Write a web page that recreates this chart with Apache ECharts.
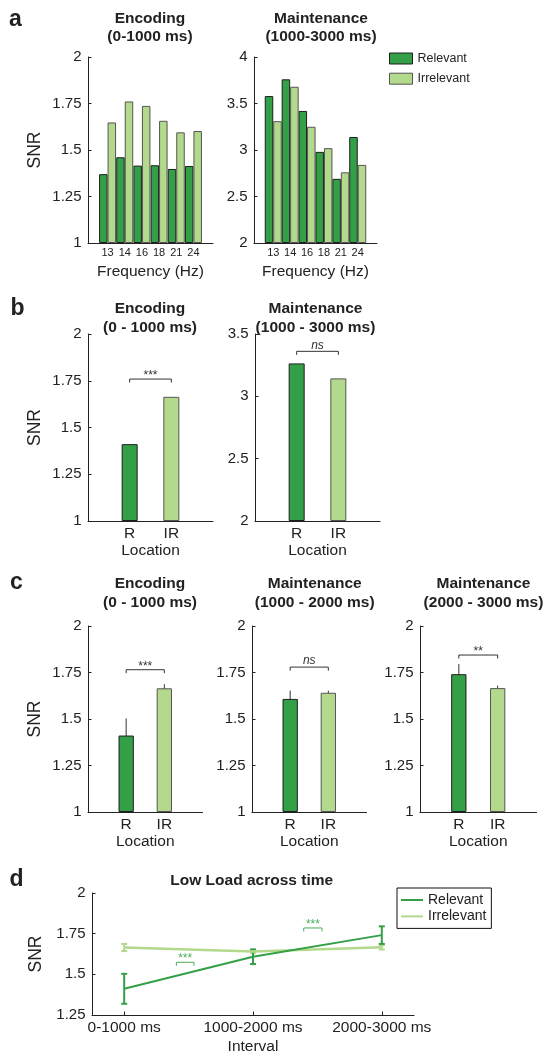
<!DOCTYPE html>
<html>
<head>
<meta charset="utf-8">
<script src="https://cdn.jsdelivr.net/npm/echarts@6/dist/echarts.min.js"></script>
<style>
  html, body { margin: 0; padding: 0; background: #fff; }
  #chart { width: 547px; height: 1056px; }
</style>
</head>
<body>
<div id="chart"></div>
<script>
// Stimulation frequencies (Hz)
const freqs = ['13', '14', '16', '18', '21', '24'];
// SNR per frequency, encoding window (0-1000 ms)
const encRel = [1.370, 1.461, 1.416, 1.418, 1.398, 1.414];
const encIrr = [1.648, 1.761, 1.737, 1.657, 1.595, 1.602];
// SNR per frequency, maintenance window (1000-3000 ms)
const mntRel = [3.58, 3.76, 3.42, 2.98, 2.69, 3.14];
const mntIrr = [3.31, 3.68, 3.25, 3.02, 2.76, 2.84];

// Location categories
const locations = ['R', 'IR'];
// Frequency-averaged SNR by location
const encAvg = [1.411, 1.664];
const mntAvg = [3.264, 3.144];

// Low load, split into three intervals (mean and error)
const intervals = ['0-1000 ms', '1000-2000 ms', '2000-3000 ms'];
const relMean = [1.411, 1.608, 1.741];
const relErr  = [0.092, 0.045, 0.054];
const irrMean = [1.665, 1.641, 1.666];
const irrErr  = [0.022, 0.011, 0.013];

// Significance brackets (level on the SNR axis, marker)
const sigB = [{ y: 1.759, text: '***' }, { y: 3.361, text: 'ns' }];
const sigC = [{ y: 1.765, text: '***' }, { y: 1.779, text: 'ns' }, { y: 1.844, text: '**' }];
const sigD = [{ from: 1.405, to: 1.542, y: 1.574, text: '***' },
              { from: 2.394, to: 2.536, y: 1.785, text: '***' }];

const FONT = '"Liberation Sans", Arial, Helvetica, sans-serif';
const INK = '#222';
const DARK = '#33a047';
const LIGHT = '#b3d98c';
const relStyle = { color: DARK, borderColor: '#1e1e1e', borderWidth: 1 };
const irrStyle = { color: LIGHT, borderColor: '#555', borderWidth: 1 };

const grid = [], xAxis = [], yAxis = [], series = [];

function panel(box, xa, ya) {
  const i = grid.length;
  grid.push(Object.assign({ containLabel: false }, box));
  xAxis.push(Object.assign({ gridIndex: i }, xa));
  yAxis.push(Object.assign({ gridIndex: i }, ya));
  return i;
}

function xAxisCfg(min, max, ticks, labels, o) {
  return {
    type: 'value', min: min, max: max,
    axisLine: { show: true, onZero: false, lineStyle: { color: INK, width: 1 } },
    axisTick: { show: !!o.tick, inside: true, length: 3.5, customValues: ticks, lineStyle: { color: INK } },
    axisLabel: {
      customValues: ticks,
      formatter: v => { const k = ticks.indexOf(v); return k < 0 ? '' : labels[k]; },
      fontSize: o.labelSize, color: INK, margin: o.labelMargin, fontFamily: FONT
    },
    splitLine: { show: false },
    name: o.name, nameLocation: 'middle', nameGap: o.nameGap,
    nameTextStyle: { fontSize: 15.5, color: INK, fontFamily: FONT }
  };
}

function yAxisCfg(min, max, interval, name, nameGap) {
  return {
    type: 'value', min: min, max: max, interval: interval, startValue: min,
    axisLine: { show: true, onZero: false, lineStyle: { color: INK, width: 1 } },
    axisTick: { show: true, inside: true, length: 3.5, lineStyle: { color: INK } },
    axisLabel: { fontSize: 15, color: INK, margin: 6.5, fontFamily: FONT },
    splitLine: { show: false },
    name: name || '', nameLocation: 'middle', nameRotate: 90, nameGap: nameGap || 44,
    nameTextStyle: { fontSize: 17.5, color: INK, fontFamily: FONT }
  };
}

// Error bar drawn through the axes' own scales
function errorBar(color, width, cap) {
  return function (params, api) {
    const x = api.value(0);
    const lo = api.coord([x, api.value(1)]);
    const hi = api.coord([x, api.value(2)]);
    const kids = [{ type: 'line', shape: { x1: lo[0], y1: lo[1], x2: hi[0], y2: hi[1] },
                    style: { stroke: color, lineWidth: width } }];
    if (cap) {
      kids.push({ type: 'line', shape: { x1: lo[0] - cap, y1: lo[1], x2: lo[0] + cap, y2: lo[1] },
                  style: { stroke: color, lineWidth: width } });
      kids.push({ type: 'line', shape: { x1: hi[0] - cap, y1: hi[1], x2: hi[0] + cap, y2: hi[1] },
                  style: { stroke: color, lineWidth: width } });
    }
    return { type: 'group', children: kids };
  };
}

// Significance bracket with its marker above
function bracket(list, color) {
  return function (params, api) {
    const item = list[params.dataIndex];
    const a = api.coord([api.value(0), api.value(2)]);
    const b = api.coord([api.value(1), api.value(2)]);
    const italic = item.text === 'ns';
    return {
      type: 'group',
      children: [
        { type: 'polyline',
          shape: { points: [[a[0], a[1] + 3.5], [a[0], a[1]], [b[0], b[1]], [b[0], b[1] + 3.5]] },
          style: { stroke: color, lineWidth: 1, fill: null } },
        { type: 'text', x: (a[0] + b[0]) / 2, y: a[1] - (italic ? 6 : 3.5),
          style: { text: item.text, align: 'center', verticalAlign: 'middle',
                   fontSize: 12, fontStyle: italic ? 'italic' : 'normal',
                   fill: color, fontFamily: FONT } }
      ]
    };
  };
}

function locPanel(box, yMin, yMax, yInt, snr, means, errs, sig, barW) {
  const i = panel(box,
    xAxisCfg(0, 3, [1, 2], locations, { labelSize: 15.5, labelMargin: 4.5, name: 'Location', nameGap: 20 }),
    yAxisCfg(yMin, yMax, yInt, snr ? 'SNR' : '', 44));
  series.push({
    type: 'bar', xAxisIndex: i, yAxisIndex: i, barWidth: barW, silent: true,
    data: locations.map((c, k) => ({ value: [k + 1, means[k]], itemStyle: k === 0 ? relStyle : irrStyle }))
  });
  if (errs) {
    series.push({
      type: 'custom', xAxisIndex: i, yAxisIndex: i, silent: true,
      renderItem: errorBar('#333', 1, 0), encode: { x: 0, y: [1, 2] },
      data: locations.map((c, k) => [k + 1, means[k] - errs[k], means[k] + errs[k]])
    });
  }
  series.push({
    type: 'custom', xAxisIndex: i, yAxisIndex: i, silent: true,
    renderItem: bracket([sig], '#333'), encode: { x: [0, 1], y: 2 },
    data: [[1, 2, sig.y]]
  });
}

// ---- d: low load across time
const iD = panel({ left: 92, top: 893, width: 322, height: 125 },
  xAxisCfg(0.75, 3.25, [1, 2, 3], intervals, { tick: true, labelSize: 15.5, labelMargin: 4.5, name: 'Interval', nameGap: 24 }),
  yAxisCfg(1.25, 2, 0.25, 'SNR', 47));
series.push({
  type: 'line', name: 'Irrelevant', xAxisIndex: iD, yAxisIndex: iD, symbol: 'none', silent: true,
  lineStyle: { color: LIGHT, width: 2.5 }, itemStyle: { color: LIGHT },
  data: intervals.map((c, k) => [k + 1, irrMean[k]])
});
series.push({
  type: 'custom', xAxisIndex: iD, yAxisIndex: iD, silent: true,
  renderItem: errorBar(LIGHT, 2, 3), encode: { x: 0, y: [1, 2] },
  data: intervals.map((c, k) => [k + 1, irrMean[k] - irrErr[k], irrMean[k] + irrErr[k]])
});
series.push({
  type: 'line', name: 'Relevant', xAxisIndex: iD, yAxisIndex: iD, symbol: 'none', silent: true,
  lineStyle: { color: DARK, width: 2 }, itemStyle: { color: DARK },
  data: intervals.map((c, k) => [k + 1, relMean[k]])
});
series.push({
  type: 'custom', xAxisIndex: iD, yAxisIndex: iD, silent: true,
  renderItem: errorBar(DARK, 2, 3), encode: { x: 0, y: [1, 2] },
  data: intervals.map((c, k) => [k + 1, relMean[k] - relErr[k], relMean[k] + relErr[k]])
});
series.push({
  type: 'custom', xAxisIndex: iD, yAxisIndex: iD, silent: true,
  renderItem: bracket(sigD, '#4cae5c'), encode: { x: [0, 1], y: 2 },
  data: sigD.map(s => [s.from, s.to, s.y])
});

// ---- a: per-frequency bars
function freqPanel(box, yMin, yMax, yInt, snr, rel, irr) {
  const i = panel(box,
    xAxisCfg(-0.14, 7.14, [1, 2, 3, 4, 5, 6], freqs, { labelSize: 11, labelMargin: 4, name: 'Frequency (Hz)', nameGap: 21 }),
    yAxisCfg(yMin, yMax, yInt, snr ? 'SNR' : '', 44));
  series.push({ type: 'bar', name: 'Relevant', xAxisIndex: i, yAxisIndex: i, barWidth: 8.5, barGap: '0%',
    silent: true, itemStyle: relStyle, data: freqs.map((f, k) => [k + 1, rel[k]]) });
  series.push({ type: 'bar', name: 'Irrelevant', xAxisIndex: i, yAxisIndex: i, barWidth: 8.5, barGap: '0%',
    silent: true, itemStyle: irrStyle, data: freqs.map((f, k) => [k + 1, irr[k]]) });
}
freqPanel({ left: 88, top: 57, width: 125, height: 186 }, 1, 2, 0.25, true, encRel, encIrr);
freqPanel({ left: 254, top: 57, width: 123, height: 186 }, 2, 4, 0.5, false, mntRel, mntIrr);

// ---- b: frequency-averaged by location
locPanel({ left: 88, top: 334, width: 125, height: 187 }, 1, 2, 0.25, true, encAvg, null, sigB[0], 16);
locPanel({ left: 255, top: 334, width: 125, height: 187 }, 2, 3.5, 0.5, false, mntAvg, null, sigB[1], 16);

// ---- c: three intervals with error bars
locPanel({ left: 88, top: 626, width: 114.5, height: 186 }, 1, 2, 0.25, true,
  [relMean[0], irrMean[0]], [relErr[0], irrErr[0]], sigC[0], 15.3);
locPanel({ left: 252, top: 626, width: 114.5, height: 186 }, 1, 2, 0.25, false,
  [relMean[1], irrMean[1]], [relErr[1], irrErr[1]], sigC[1], 15.3);
locPanel({ left: 420, top: 626, width: 116.5, height: 186 }, 1, 2, 0.25, false,
  [relMean[2], irrMean[2]], [relErr[2], irrErr[2]], sigC[2], 15.3);

function label(text, x, y, size, weight, lh) {
  return { type: 'text', x: x, y: y, silent: true,
    style: { text: text, fill: INK, fontSize: size, fontWeight: weight, fontFamily: FONT,
             align: 'center', verticalAlign: 'middle', lineHeight: lh || size } };
}

const graphic = [
  label('a', 15.5, 20, 23, 'bold'),
  label('b', 17.5, 309, 23, 'bold'),
  label('c', 16.5, 583, 23, 'bold'),
  label('d', 16.5, 880, 23, 'bold'),
  label('Encoding\n(0-1000 ms)', 150, 27.5, 15.5, 'bold', 18.4),
  label('Maintenance\n(1000-3000 ms)', 321, 27.5, 15.5, 'bold', 18.4),
  label('Encoding\n(0 - 1000 ms)', 150, 318, 15.5, 'bold', 19.4),
  label('Maintenance\n(1000 - 3000 ms)', 315.5, 318, 15.5, 'bold', 19.4),
  label('Encoding\n(0 - 1000 ms)', 150, 592.8, 15.5, 'bold', 19),
  label('Maintenance\n(1000 - 2000 ms)', 314.7, 592.8, 15.5, 'bold', 19),
  label('Maintenance\n(2000 - 3000 ms)', 483.5, 592.8, 15.5, 'bold', 19),
  label('Low Load across time', 251.7, 880.7, 15.5, 'bold')
];

const legend = [
  {
    left: 389, top: 52, orient: 'vertical', padding: 0, itemWidth: 23, itemHeight: 11, itemGap: 7.2,
    icon: 'rect', selectedMode: false,
    textStyle: { fontSize: 12.5, color: INK, fontFamily: FONT, lineHeight: 11 },
    data: [
      { name: 'Relevant', icon: 'rect', itemStyle: { color: DARK, borderColor: '#1e1e1e', borderWidth: 1 } },
      { name: 'Irrelevant', icon: 'rect', itemStyle: { color: LIGHT, borderColor: '#555', borderWidth: 1 } }
    ]
  },
  {
    left: 397, top: 888, orient: 'vertical', padding: [5, 5, 5, 4], itemWidth: 22, itemHeight: 2, itemGap: 2.4,
    icon: 'rect', selectedMode: false, borderColor: '#111', borderWidth: 1, backgroundColor: '#fff',
    textStyle: { fontSize: 14, color: INK, fontFamily: FONT, lineHeight: 14 },
    data: [
      { name: 'Relevant', icon: 'rect', itemStyle: { color: DARK, borderWidth: 0 } },
      { name: 'Irrelevant', icon: 'rect', itemStyle: { color: LIGHT, borderWidth: 0 } }
    ]
  }
];

const chart = echarts.init(document.getElementById('chart'), null, { renderer: 'canvas', width: 547, height: 1056 });
chart.setOption({
  animation: false,
  backgroundColor: '#fff',
  textStyle: { fontFamily: FONT },
  grid: grid, xAxis: xAxis, yAxis: yAxis, series: series,
  legend: legend, graphic: graphic
});
</script>
</body>
</html>
